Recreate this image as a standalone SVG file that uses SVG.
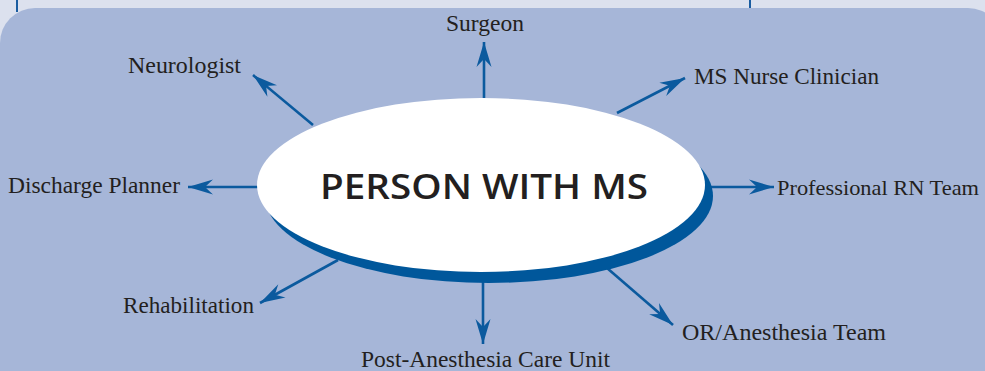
<svg xmlns="http://www.w3.org/2000/svg" width="985" height="371" viewBox="0 0 985 371">
<style>
.lbl{font-family:"Liberation Serif","Times New Roman",serif;font-size:24px;fill:#231f20}
.con{stroke:#0b5a9e;stroke-width:2.6;fill:none;marker-end:url(#ah)}
.ttl{font-family:"Open Sans","Noto Sans",sans-serif;font-weight:600;font-size:35px;fill:#231f20}
</style>
<defs>
<marker id="ah" markerUnits="userSpaceOnUse" markerWidth="30" markerHeight="20" viewBox="-26 -10 30 20" refX="0" refY="0" orient="auto">
<path d="M0,0 L-25,-7.5 L-17,0 L-25,7.5 Z" fill="#0b5a9e"/>
</marker>
</defs>
<rect x="0" y="0" width="985" height="371" fill="#dce1ee"/>
<line x1="17" y1="0" x2="17" y2="12" stroke="#1a5ca0" stroke-width="2"/>
<line x1="750" y1="0" x2="750" y2="9" stroke="#1a5ca0" stroke-width="2"/>
<rect x="0" y="8" width="1003" height="400" rx="35" fill="#a6b6d8"/>
<g id="connectors">
<line class="con" x1="484" y1="98" x2="484" y2="42"/>
<line class="con" x1="313" y1="125" x2="253" y2="75"/>
<line class="con" x1="617" y1="113" x2="685" y2="78"/>
<line class="con" x1="260" y1="187" x2="188" y2="187"/>
<line class="con" x1="710" y1="187" x2="774" y2="187"/>
<line class="con" x1="338" y1="260" x2="260" y2="303"/>
<line class="con" x1="607" y1="268" x2="673" y2="325"/>
<line class="con" x1="483" y1="282" x2="483" y2="344"/>
</g>
<g id="center">
<ellipse cx="489" cy="196" rx="224" ry="87" fill="#00579b"/>
<ellipse cx="481" cy="185" rx="224" ry="87" fill="#ffffff"/>
<text class="ttl" x="320" y="199" textLength="328" lengthAdjust="spacingAndGlyphs">PERSON WITH MS</text>
</g>
<g id="surgeon"><text class="lbl" x="446" y="31" textLength="78" lengthAdjust="spacingAndGlyphs">Surgeon</text></g>
<g id="neurologist"><text class="lbl" x="128" y="73" textLength="113" lengthAdjust="spacingAndGlyphs">Neurologist</text></g>
<g id="ms-nurse"><text class="lbl" x="694" y="84" textLength="185" lengthAdjust="spacingAndGlyphs">MS Nurse Clinician</text></g>
<g id="discharge"><text class="lbl" x="8" y="193" textLength="172" lengthAdjust="spacingAndGlyphs">Discharge Planner</text></g>
<g id="rn-team"><text class="lbl" x="777" y="195" style="font-size:22px" textLength="202" lengthAdjust="spacingAndGlyphs">Professional RN Team</text></g>
<g id="rehab"><text class="lbl" x="123" y="313" textLength="131" lengthAdjust="spacingAndGlyphs">Rehabilitation</text></g>
<g id="or-team"><text class="lbl" x="682" y="340" textLength="204" lengthAdjust="spacingAndGlyphs">OR/Anesthesia Team</text></g>
<g id="pacu"><text class="lbl" x="361" y="367" textLength="249" lengthAdjust="spacingAndGlyphs">Post-Anesthesia Care Unit</text></g>
</svg>
